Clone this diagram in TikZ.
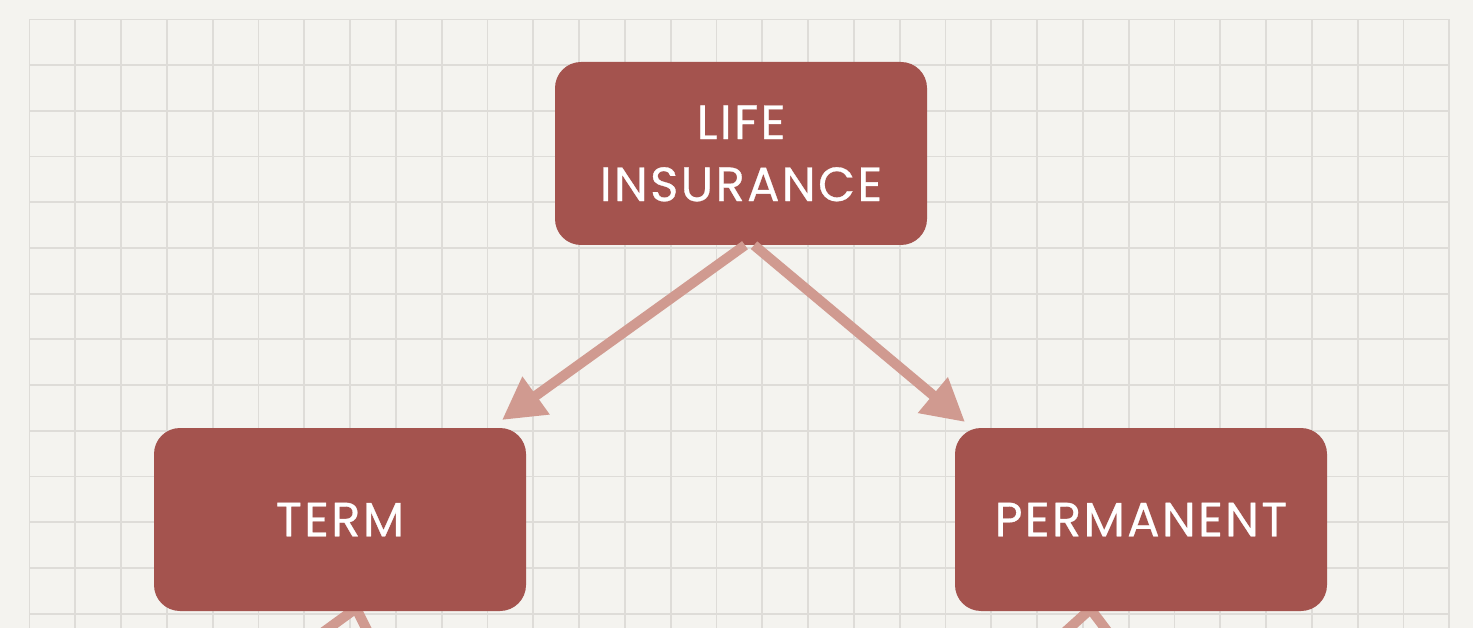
\documentclass[tikz,border=0pt]{standalone}
\usepackage{fontspec}
\setmainfont{Poppins}[LetterSpace=5,FakeBold=0.6]
\usetikzlibrary{arrows.meta,backgrounds}
\definecolor{paper}{HTML}{F4F3EF}
\definecolor{gridc}{HTML}{DEDCD8}
\definecolor{boxc}{HTML}{A4534E}
\definecolor{arrc}{HTML}{D09A90}
\tikzset{
  box/.style={fill=boxc, rounded corners=26pt, minimum width=372pt, minimum height=183pt,
    text=white, font=\fontsize{48}{62}\selectfont, align=center, inner sep=0pt},
  arr/.style={draw=arrc, line width=10pt, -{Triangle[length=42pt,width=44pt]}},
  gridline/.style={draw=gridc, line width=1.8pt}
}
\begin{document}
\begin{tikzpicture}[x=1pt,y=-1pt]
\useasboundingbox (0,0) rectangle (1473,628);
\clip (0,0) rectangle (1473,628);
\node[box] (life) at (741,153.5) {LIFE\\INSURANCE};
\node[box] (term) at (340,519.5) {TERM};
\node[box] (perm) at (1141,519.5) {PERMANENT};
\coordinate (tl) at (502,420);
\coordinate (tr) at (965,422);
\coordinate (b1) at (257.5,680);
\coordinate (b2) at (392,680);
\coordinate (b3) at (1012,680);
\coordinate (b4) at (1144,680);
\begin{scope}[on background layer]
  \fill[paper] (0,0) rectangle (1473,628);
  \foreach \i in {0,...,31} \draw[gridline] ({29.5+45.8*\i},19.5) -- ({29.5+45.8*\i},640);
  \foreach \j in {0,...,13} \draw[gridline] (29.5,{19.5+45.7*\j}) -- (1449.5,{19.5+45.7*\j});
  \draw[arr] (b1) -- ([xshift=89pt,yshift=56pt]term.south);
  \draw[arr] (b2) -- ([xshift=-10.5pt,yshift=56pt]term.south);
  \draw[arr] (b3) -- ([xshift=9pt,yshift=56pt]perm.south);
  \draw[arr] (b4) -- ([xshift=-91pt,yshift=56pt]perm.south);
\end{scope}
\draw[arr] ([xshift=4pt]life.south) -- (tl);
\draw[arr] ([xshift=13pt]life.south) -- (tr);
\end{tikzpicture}
\end{document}
